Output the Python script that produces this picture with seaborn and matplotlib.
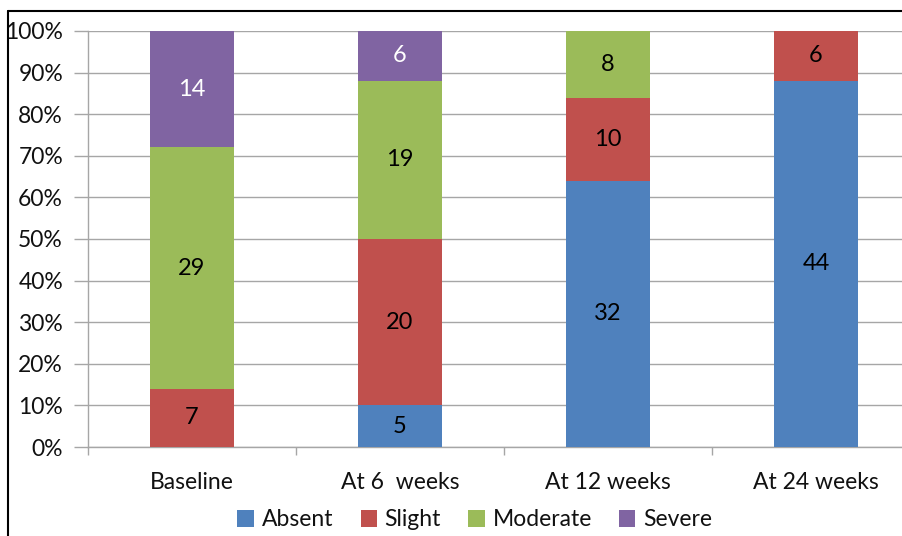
import matplotlib
matplotlib.use("Agg")
import matplotlib.pyplot as plt
from matplotlib.lines import Line2D
from matplotlib.patches import Patch
import seaborn as sns
import pandas as pd
import numpy as np

# Patient counts per symptom grade at each visit
visits = ["Baseline", "At 6  weeks", "At 12 weeks", "At 24 weeks"]
absent = [0, 5, 32, 44]
slight = [7, 20, 10, 6]
moderate = [29, 19, 8, 0]
severe = [14, 6, 0, 0]

grades = ["Absent", "Slight", "Moderate", "Severe"]
colors = ["#4F81BD", "#C0504D", "#9BBB59", "#8064A2"]
label_colors = ["black", "black", "black", "white"]
y_ticks = [0, 10, 20, 30, 40, 50, 60, 70, 80, 90, 100]

sns.set_style("white")
plt.rcParams["font.family"] = ["Lato", "DejaVu Sans"]
FS = 16.5

counts = pd.DataFrame({"Absent": absent, "Slight": slight,
                       "Moderate": moderate, "Severe": severe}, index=visits)
totals = counts.sum(axis=1)
share = counts.div(totals, axis=0) * 100

fig = plt.figure(figsize=(9.03, 5.36), dpi=100)
ax = fig.add_axes([88 / 903, 89 / 536, 832 / 903, 416 / 536])

bottom = np.zeros(len(visits))
for grade, col, lc in zip(grades, colors, label_colors):
    df = pd.DataFrame({"visit": visits, "pct": share[grade].values})
    sns.barplot(data=df, x="visit", y="pct", color=col, width=0.4,
                bottom=bottom, ax=ax, saturation=1, zorder=3,
                linewidth=0, edgecolor="none")
    for i, (n, p) in enumerate(zip(counts[grade].values, share[grade].values)):
        if n > 0:
            ax.text(i, bottom[i] + p / 2, str(n), ha="center", va="center",
                    fontsize=17, color=lc, zorder=4)
    bottom = bottom + share[grade].values

ax.set_xlim(-0.5, 3.5)
ax.set_ylim(0, 100)
ax.set_yticks(y_ticks)
ax.set_yticklabels([f"{t}%" for t in y_ticks])
ax.yaxis.grid(True, color="#A6A6A6", linewidth=1, zorder=0)
ax.set_axisbelow(True)
ax.set_xlabel("")
ax.set_ylabel("")

for s in ["top", "right"]:
    ax.spines[s].set_visible(False)
for s in ["left", "bottom"]:
    ax.spines[s].set_color("#A6A6A6")
    ax.spines[s].set_linewidth(1)

ax.tick_params(axis="y", length=10, width=1, color="#A6A6A6", pad=8,
               labelsize=FS, left=True, labelcolor="#111111")
ax.set_xticks(range(len(visits)))
ax.set_xticklabels(visits)
ax.tick_params(axis="x", length=0, pad=18, labelsize=FS, labelcolor="#111111")
# category separators on the x axis
ax.set_xticks(np.arange(-0.5, 4.0, 1.0), minor=True)
ax.tick_params(axis="x", which="minor", length=6, width=1, color="#A6A6A6",
               bottom=True)

handles = [Patch(facecolor=c, edgecolor="none") for c in colors]
fig.legend(handles, grades, loc="center", bbox_to_anchor=(475 / 903, 1 - 520 / 536),
           ncol=4, frameon=False, fontsize=FS, handlelength=0.7, handleheight=0.7,
           handletextpad=0.35, columnspacing=1.2, labelcolor="#111111")

# outer frame lines
fig.add_artist(Line2D([8 / 903, 1], [1 - 11 / 536, 1 - 11 / 536], color="black",
                      linewidth=1.5, transform=fig.transFigure))
fig.add_artist(Line2D([8 / 903, 8 / 903], [0, 1 - 11 / 536], color="black",
                      linewidth=1.5, transform=fig.transFigure))

fig.savefig("out.png", dpi=100)
